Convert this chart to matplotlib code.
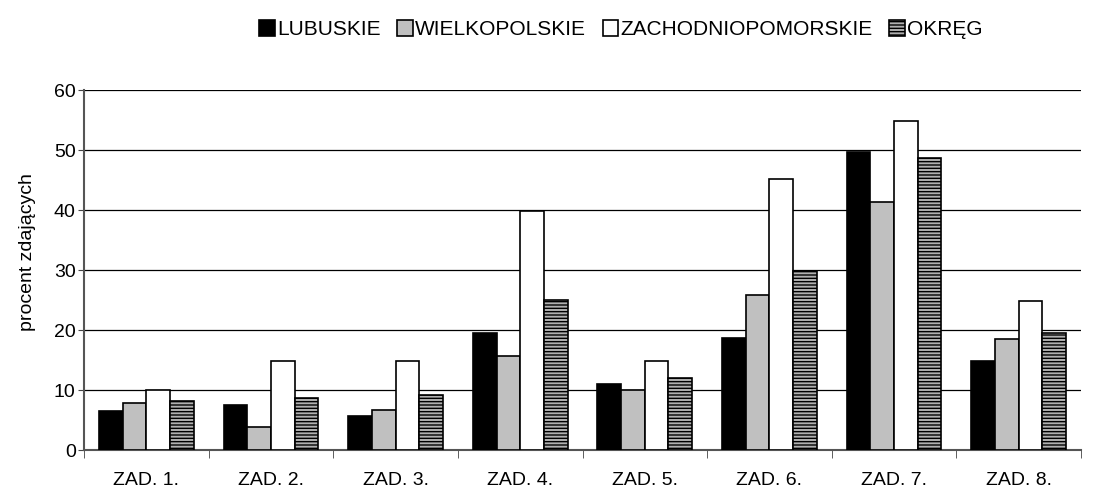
import matplotlib.pyplot as plt
import numpy as np

plt.rcParams['font.family'] = ['Liberation Sans', 'DejaVu Sans']
plt.rcParams['hatch.linewidth'] = 1.0

zadania = ['ZAD. 1.', 'ZAD. 2.', 'ZAD. 3.', 'ZAD. 4.', 'ZAD. 5.', 'ZAD. 6.', 'ZAD. 7.', 'ZAD. 8.']
lubuskie = [6.5, 7.5, 5.6, 19.5, 11.0, 18.6, 49.7, 14.9]
wielkopolskie = [7.8, 3.8, 6.7, 15.6, 10.0, 25.9, 41.4, 18.5]
zachodniopomorskie = [10.0, 14.8, 14.8, 39.9, 14.8, 45.1, 54.8, 24.9]
okreg = [8.1, 8.7, 9.1, 25.0, 12.0, 29.8, 48.7, 19.5]

fig = plt.figure(figsize=(10.97, 4.9), dpi=100)
ax = fig.add_axes([0.0766, 0.0816, 0.9088, 0.7347])

x = np.arange(len(zadania))
w = 0.19
series = [
    ('LUBUSKIE', lubuskie, 'black', None),
    ('WIELKOPOLSKIE', wielkopolskie, '#c0c0c0', None),
    ('ZACHODNIOPOMORSKIE', zachodniopomorskie, 'white', None),
    ('OKRĘG', okreg, '#b0b0b0', '-----'),
]
for i, (name, vals, col, hatch) in enumerate(series):
    ax.bar(x + (i - 1.5) * w, vals, w, color=col, edgecolor='black',
           linewidth=1.2, hatch=hatch, label=name, zorder=3)

ax.set_xlim(-0.5, len(zadania) - 0.5)
ax.set_ylim(0, 60)
ax.set_yticks(range(0, 61, 10))
ax.set_xticks(x)
ax.set_xticklabels(zadania, fontsize=14)
ax.set_xticks(np.arange(-0.5, len(zadania)), minor=True)
ax.tick_params(axis='x', which='major', length=0, pad=16)
ax.tick_params(axis='x', which='minor', length=6, direction='out', color='#444444')
ax.tick_params(axis='y', labelsize=14, length=4, color='#444444', pad=2)
ax.yaxis.grid(True, color='black', linewidth=0.9, zorder=0)
ax.set_axisbelow(True)
for s in ['top', 'right']:
    ax.spines[s].set_visible(False)
ax.spines['left'].set_color('#555555')
ax.spines['left'].set_linewidth(1.5)
ax.spines['bottom'].set_color('#555555')
ax.spines['bottom'].set_linewidth(1.5)
ax.set_ylabel('procent zdających', fontsize=14)
ax.yaxis.set_label_coords(-0.048, 0.55)

fig.legend(loc='center', bbox_to_anchor=(0.566, 0.939), ncol=4, frameon=False,
           fontsize=15, handlelength=0.75, handleheight=0.75, handletextpad=0.1,
           columnspacing=0.8)

fig.savefig('out.png', dpi=100)
